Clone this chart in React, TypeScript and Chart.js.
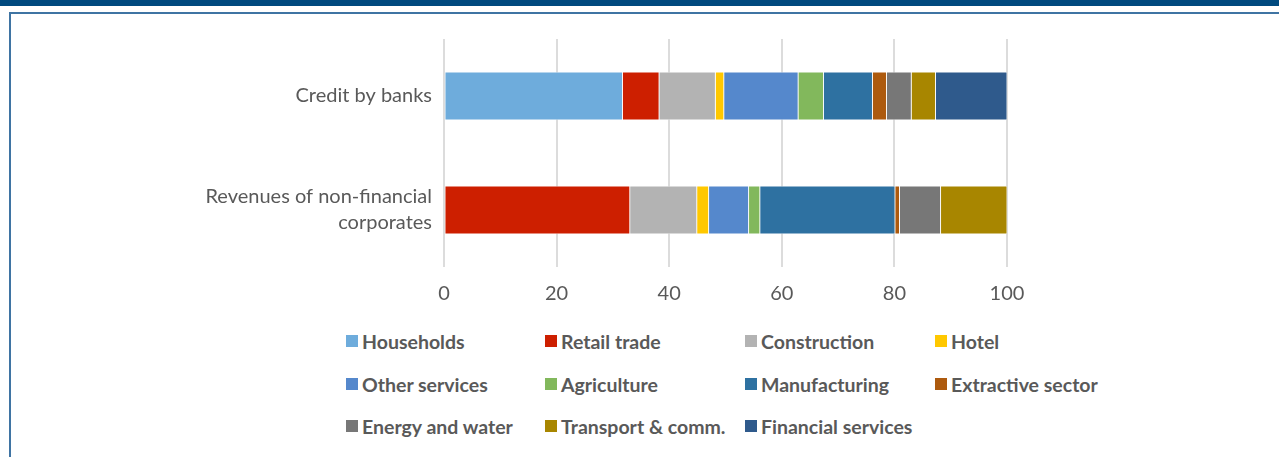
import React, { useEffect, useRef } from "react";
import { Chart, registerables } from "chart.js";

Chart.register(...registerables);

const categories: (string | string[])[] = [
  "Credit by banks",
  ["Revenues of non-financial", "corporates"],
];

const seriesNames = [
  "Households",
  "Retail trade",
  "Construction",
  "Hotel",
  "Other services",
  "Agriculture",
  "Manufacturing",
  "Extractive sector",
  "Energy and water",
  "Transport & comm.",
  "Financial services",
];

const seriesColors = [
  "#6eacdc",
  "#cd1f00",
  "#b3b3b3",
  "#ffc800",
  "#5588cc",
  "#82b85c",
  "#2e71a1",
  "#ad5a0e",
  "#777777",
  "#a88600",
  "#2f5a8c",
];

// [Credit by banks, Revenues of non-financial corporates]
const households = [31.7, 0];
const retailTrade = [6.5, 33.0];
const construction = [10.0, 11.9];
const hotel = [1.5, 2.1];
const otherServices = [13.2, 7.1];
const agriculture = [4.5, 2.0];
const manufacturing = [8.7, 24.0];
const extractive = [2.5, 0.8];
const energyWater = [4.4, 7.3];
const transport = [4.3, 11.8];
const financial = [12.7, 0];

const seriesValues = [
  households,
  retailTrade,
  construction,
  hotel,
  otherServices,
  agriculture,
  manufacturing,
  extractive,
  energyWater,
  transport,
  financial,
];

const xTicks = [0, 20, 40, 60, 80, 100];

const FONT = "Lato, 'Noto Sans', sans-serif";
const TEXT = "#595959";

export default function App() {
  const ref = useRef<HTMLCanvasElement | null>(null);

  useEffect(() => {
    const prevMargin = document.body.style.margin;
    document.body.style.margin = "0";
    if (!ref.current) return;
    const chart = new Chart(ref.current, {
      type: "bar",
      data: {
        labels: categories,
        datasets: seriesNames.map((name, i) => ({
          label: name,
          data: seriesValues[i],
          backgroundColor: seriesColors[i],
          borderColor: "rgba(255,255,255,0.55)",
          borderWidth: 0.8,
          borderSkipped: false,
          barThickness: 48,
        })),
      },
      options: {
        indexAxis: "y",
        responsive: false,
        animation: false,
        maintainAspectRatio: false,
        layout: { padding: { left: 0, right: 272, top: 39, bottom: 0 } },
        plugins: {
          legend: { display: false },
          tooltip: { enabled: false },
        },
        scales: {
          x: {
            stacked: true,
            min: 0,
            max: 100,
            afterBuildTicks: (s: any) => {
              s.ticks = xTicks.map((v) => ({ value: v }));
            },
            afterFit: (s: any) => {
              s.height = 43;
            },
            grid: { color: "#dcdcdc", lineWidth: 2, drawTicks: false },
            border: { display: false },
            ticks: {
              color: TEXT,
              padding: 15,
              font: { family: FONT, size: 20 },
            },
          },
          y: {
            stacked: true,
            afterFit: (s: any) => {
              s.width = 444;
            },
            grid: { display: false, drawTicks: false },
            border: { display: false },
            ticks: {
              color: TEXT,
              padding: 12,
              font: { family: FONT, size: 20, lineHeight: 1.3 },
            },
          },
        },
      },
    });
    return () => {
      chart.destroy();
      document.body.style.margin = prevMargin;
    };
  }, []);

  const legendLeft = [346, 545, 745, 935];
  const legendTop = [341, 384, 426];

  return (
    <div
      style={{
        position: "fixed",
        left: 0,
        top: 0,
        width: 1279,
        height: 457,
        background: "#ffffff",
        overflow: "hidden",
      }}
    >
      <div
        style={{
          position: "absolute",
          left: 0,
          top: 0,
          width: 1279,
          height: 6,
          background: "#004a7f",
        }}
      />
      <div
        style={{
          position: "absolute",
          left: 9,
          top: 12,
          width: 1300,
          height: 500,
          borderLeft: "2px solid #3f74a3",
          borderTop: "2px solid #3f74a3",
          boxSizing: "border-box",
        }}
      />
      <canvas
        ref={ref}
        width={1279}
        height={310}
        style={{ position: "absolute", left: 0, top: 0, width: 1279, height: 310 }}
      />
      {seriesNames.map((name, i) => {
        const col = i % 4;
        const row = Math.floor(i / 4);
        return (
          <div
            key={name}
            style={{
              position: "absolute",
              left: legendLeft[col],
              top: legendTop[row] - 12,
              height: 24,
              display: "flex",
              alignItems: "center",
              whiteSpace: "nowrap",
              fontFamily: FONT,
              fontWeight: 700,
              fontSize: 19.5,
              color: TEXT,
            }}
          >
            <span
              style={{
                display: "inline-block",
                width: 12,
                height: 12,
                background: seriesColors[i],
                marginRight: 4,
              }}
            />
            {name}
          </div>
        );
      })}
    </div>
  );
}
